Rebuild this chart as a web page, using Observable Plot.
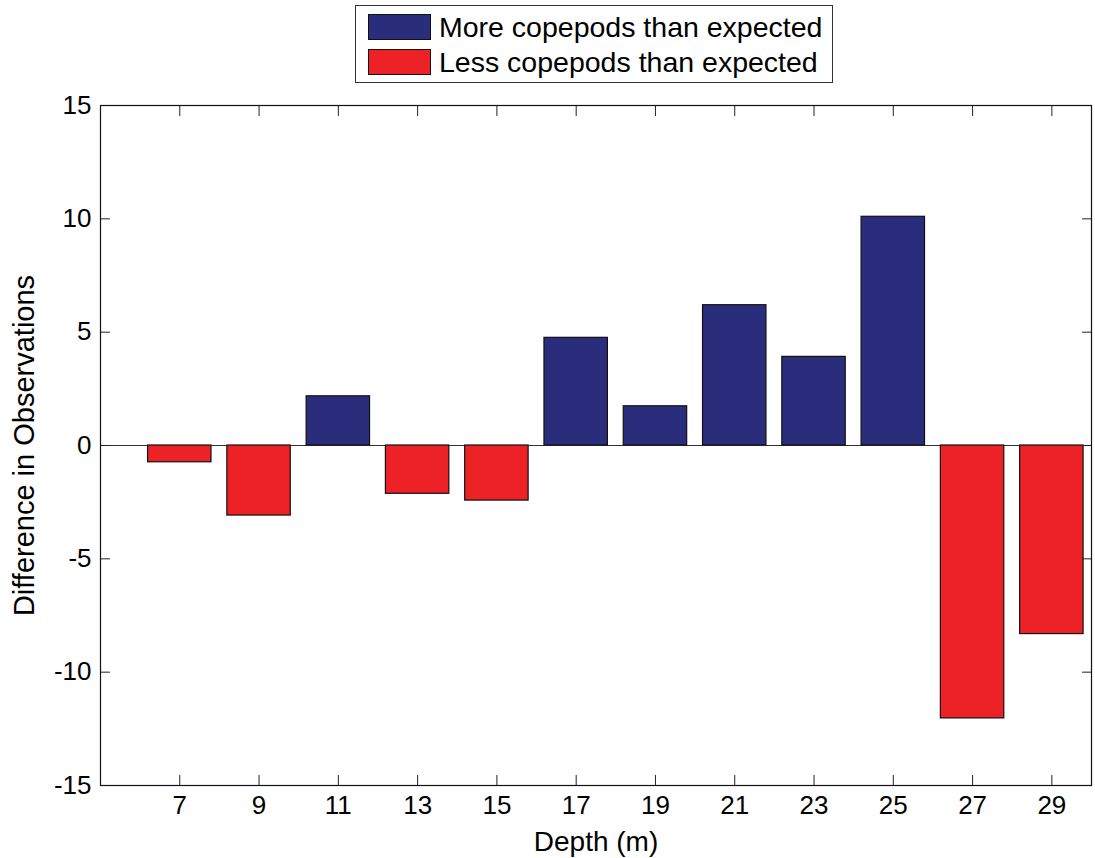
<!DOCTYPE html>
<html>
<head>
<meta charset="utf-8">
<script src="https://cdn.jsdelivr.net/npm/d3@7"></script>
<script src="https://cdn.jsdelivr.net/npm/@observablehq/plot@0.6"></script>
<style>
  html, body { margin: 0; padding: 0; background: #fff; }
  body { width: 1095px; height: 858px; overflow: hidden; font-family: "Liberation Sans", Arial, sans-serif; }
  #legend { position: relative; height: 90px; }
  #legend .box { position: absolute; left: 355px; top: 5px; width: 476px; height: 76px; border: 1px solid #333; background: #fff; }
  #legend .row { position: absolute; left: 12px; height: 28px; display: flex; align-items: center; }
  #legend .swatch { width: 63px; height: 26px; border: 1px solid #111; box-sizing: border-box; }
  #legend .label { margin-left: 8px; font-size: 28.5px; color: #000; line-height: 28px; white-space: nowrap; }
</style>
</head>
<body>
<div id="legend"></div>
<div id="chart"></div>
<script>
// Depth bins (m) and the observed-minus-expected copepod counts at each depth
const depths = [7, 9, 11, 13, 15, 17, 19, 21, 23, 25, 27, 29];
const differences = [-0.74, -3.09, 2.17, -2.13, -2.43, 4.75, 1.73, 6.19, 3.91, 10.09, -12.04, -8.32];

// Axis ticks
const yTicks = [-15, -10, -5, 0, 5, 10, 15];
const xTicks = depths;

// Series names and their colours
const seriesNames = ["More copepods than expected", "Less copepods than expected"];
const seriesColors = ["#2a2d7c", "#ec2227"];

const halfWidth = 0.8; // bars take 80% of the 2 m spacing
const plainNumber = d => String(d); // hyphen-minus for negatives

const rows = depths.map((depth, i) => ({
  depth,
  value: differences[i],
  series: differences[i] >= 0 ? seriesNames[0] : seriesNames[1]
}));

// Legend box above the plot
const box = document.createElement("div");
box.className = "box";
seriesNames.forEach((name, i) => {
  const row = document.createElement("div");
  row.className = "row";
  row.style.top = (i === 0 ? 7 : 42) + "px";
  const sw = document.createElement("div");
  sw.className = "swatch";
  sw.style.background = seriesColors[i];
  const lab = document.createElement("span");
  lab.className = "label";
  lab.textContent = name;
  row.append(sw, lab);
  box.append(row);
});
document.getElementById("legend").append(box);

const chart = Plot.plot({
  width: 1095,
  height: 768,
  marginTop: 15,
  marginBottom: 73,
  marginLeft: 100,
  marginRight: 4,
  style: { fontFamily: "'Liberation Sans', Arial, sans-serif", fontSize: "26px", background: "#fff", color: "#000" },
  x: { domain: [5, 30] },
  y: { domain: [-15, 15] },
  color: { domain: seriesNames, range: seriesColors },
  marks: [
    Plot.ruleY([0], { stroke: "#333", strokeWidth: 1.2 }),
    Plot.rect(rows, {
      x1: d => d.depth - halfWidth,
      x2: d => d.depth + halfWidth,
      y1: 0,
      y2: "value",
      fill: "series",
      stroke: "#111",
      strokeWidth: 1.2
    }),
    // inward tick marks on all four sides
    Plot.axisX(xTicks, { anchor: "bottom", tickSize: 10, dy: -10, tickFormat: () => "", label: null, stroke: "#222" }),
    Plot.axisX(xTicks, { anchor: "top", tickSize: 10, dy: 10, tickFormat: () => "", label: null, stroke: "#222" }),
    Plot.axisY(yTicks, { anchor: "left", tickSize: 10, dx: 10, tickFormat: () => "", label: null, stroke: "#222" }),
    Plot.axisY(yTicks, { anchor: "right", tickSize: 10, dx: -10, tickFormat: () => "", label: null, stroke: "#222" }),
    // tick labels
    Plot.axisX(xTicks, { anchor: "bottom", tickSize: 0, tickPadding: 10, fontSize: 26, tickFormat: plainNumber, label: null }),
    Plot.axisY(yTicks, { anchor: "left", tickSize: 0, tickPadding: 9, fontSize: 26, tickFormat: plainNumber, label: null }),
    // axis titles
    Plot.axisX([], {
      anchor: "bottom", tickSize: 0, fontSize: 28,
      label: "Depth (m)", labelAnchor: "center", labelArrow: "none", labelOffset: 65
    }),
    Plot.axisY([], {
      anchor: "left", tickSize: 0, fontSize: 29,
      label: "Difference in Observations", labelAnchor: "center", labelArrow: "none", labelOffset: 87
    }),
    Plot.frame({ stroke: "#111", strokeWidth: 1.2 })
  ]
});
document.getElementById("chart").append(chart);
</script>
</body>
</html>
